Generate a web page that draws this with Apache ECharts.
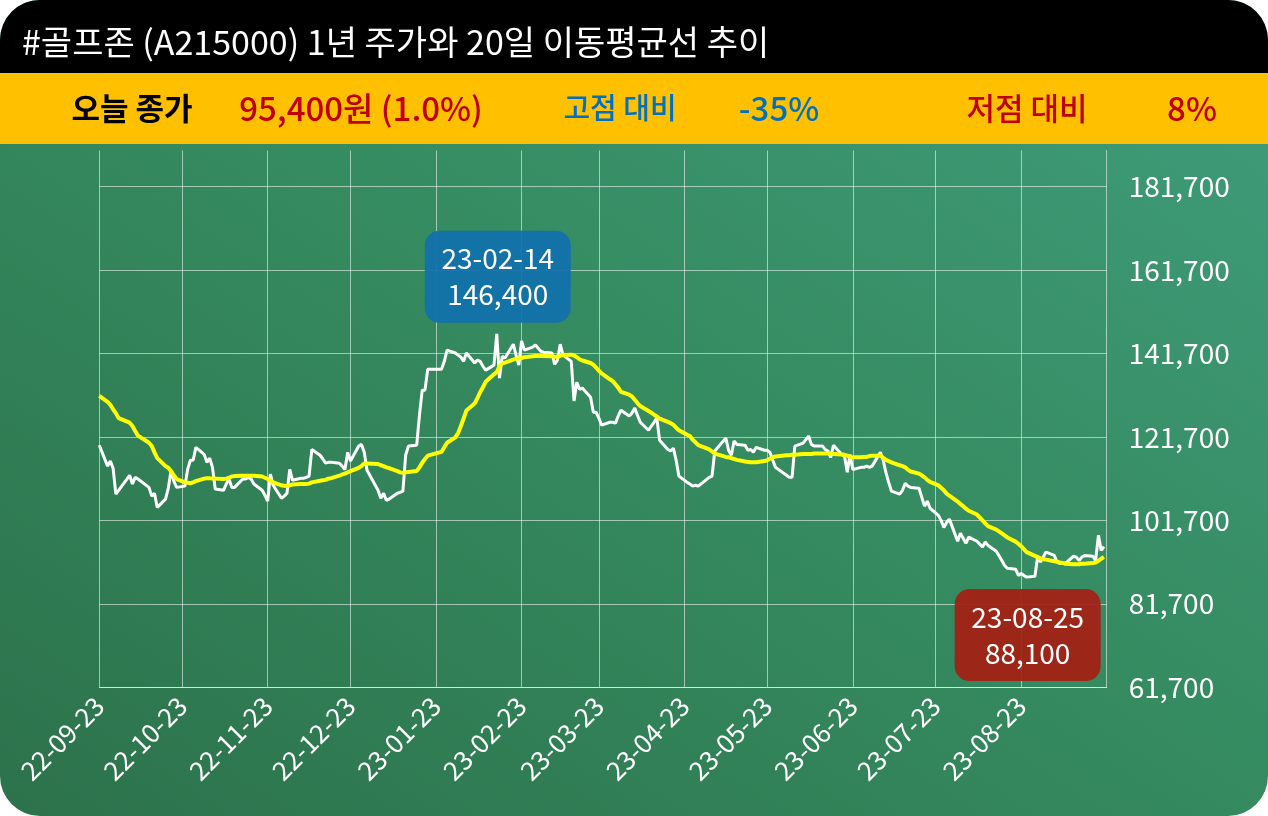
<!DOCTYPE html>
<html>
<head>
<meta charset="utf-8">
<script src="https://cdn.jsdelivr.net/npm/echarts@6/dist/echarts.min.js"></script>
<style>
  html, body { margin: 0; padding: 0; background: #fff; }
  #card {
    width: 1268px; height: 816px; border-radius: 40px; overflow: hidden;
    background: linear-gradient(to top right, #2c724b 0%, #358a5f 50%, #3f9d7c 100%);
  }
  #chart { width: 1268px; height: 816px; }
</style>
</head>
<body>
<div id="card"><div id="chart"></div></div>
<script>
// 거래일: 주말과 휴장일을 뺀 날짜
const startDate = '2022-09-23';
const endDate = '2023-09-22';
const holidays = ['2022-10-03', '2022-10-10', '2022-12-30', '2023-01-23', '2023-01-24',
  '2023-03-01', '2023-05-01', '2023-05-05', '2023-05-29', '2023-06-06', '2023-08-15'];

// 종가 (월별 줄)
const prices = [
  119700, 114700, 115900, 114200, 108000, 108900,
  112500, 110400, 112000, 111600, 109600, 107500, 108200, 104800, 106800, 109400, 113700, 111100, 109600, 109900, 113900, 116100, 116100, 119200, 117500,
  115600, 116600, 114400, 109200, 108900, 110400, 111600, 109600, 109600, 111600, 111600, 112000, 111600, 110400, 108900, 107700, 106300, 112800, 110100, 107000, 107500, 108200,
  113900, 111300, 111800, 111800, 112000, 112300, 118700, 117300, 116400, 115400, 115600, 115600, 115400, 114700, 113900, 118000, 115900, 119500, 119900, 118000, 113700,
  108900, 107000, 108200, 106500, 106800, 108200, 108400, 108700, 117300, 119500, 119700, 126900, 132900, 132900, 137900, 137900, 139800, 142500, 141800, 141300,
  140800, 139800, 141800, 139400, 140100, 139800, 138600, 137700, 138900, 146400, 135800, 141000, 140600, 143900, 141300, 138900, 144700, 142500, 143200, 143700,
  142200, 142000, 141800, 139100, 140100, 143900, 141300, 139800, 130300, 134800, 133100, 133400, 131200, 127600, 127600, 126200, 124500, 125200, 125200, 125000, 126700, 128100,
  126700, 127400, 128600, 126900, 125200, 123300, 124300, 125200, 126200, 120900, 118700, 118300, 119000, 116100, 112300, 110800, 110400, 109900, 110100, 109900,
  112000, 112300, 118300, 121400, 118500, 117300, 120700, 119900, 119700, 118500, 118700, 118000, 119200, 118500, 118500, 118000, 116100, 114400, 112500, 112000,
  112000, 119500, 120200, 121900, 119900, 119500, 119500, 118700, 118300, 116800, 119700, 117500, 117100, 113200, 117500, 113900, 114400, 114400, 114700, 114400, 114700,
  118000, 116100, 113200, 110800, 108700, 108000, 108900, 110600, 109900, 109600, 109400, 107200, 105100, 106300, 104600, 102900, 101700, 100000, 101200, 102000, 96700,
  98600, 97400, 96200, 97700, 96700, 96000, 95300, 96500, 95700, 94300, 92100, 90900, 90200, 90000, 88500, 89000, 88500, 88100, 88300, 93100, 91700, 92900,
  94100, 93300, 91700, 91400, 91400, 91400, 93100, 92900, 92100, 92900, 93300, 93100, 92100, 98100, 94500, 95400
];

// 20일 이동평균
const ma20 = [
  131500, 130100, 129400, 128300, 127400, 126200,
  125100, 124300, 123100, 122000, 120300, 119500, 118000, 116600, 114700, 114300, 113500, 112500, 111600, 110800, 110700, 110600, 110800, 111100, 111700,
  111800, 111800, 111700, 111700, 111600, 111700, 111900, 112200, 112300, 112400, 112400, 112400, 112400, 112400, 112200, 111900, 111600, 111200, 110800, 110100, 110000, 109900,
  110100, 110300, 110400, 110400, 110400, 110500, 110800, 111200, 111300, 111400, 111700, 111800, 112400, 112700, 112900, 113200, 113500, 114300, 114700, 115300, 115300,
  115200, 114900, 114700, 114400, 114200, 113500, 113200, 113100, 113200, 113300, 113500, 114400, 115500, 116400, 117200, 118100, 119200, 120300, 121600, 122600,
  124300, 126100, 128000, 129700, 131000, 132400, 133600, 134900, 136700, 137200, 138700, 139300, 139500, 140200, 140400, 140500, 140600, 140800, 141000, 141100,
  141100, 141100, 141000, 140900, 140900, 141100, 141300, 141400, 141200, 140800, 140300, 140000, 139400, 139000, 138300, 137600, 136900, 135500, 135100, 134300, 133500, 132500,
  131800, 131400, 130600, 129800, 129100, 127900, 127500, 127000, 126600, 126100, 125300, 125000, 124600, 123900, 123300, 122200, 121900, 121000, 120400, 119700,
  118700, 118200, 117700, 116900, 116800, 116600, 116400, 116200, 115800, 115700, 115600, 115600, 115600, 115900, 116100, 116500, 116800, 117000, 117300, 117300,
  117400, 117400, 117600, 117600, 117600, 117700, 117700, 117700, 117700, 117600, 117600, 117500, 117400, 117200, 116900, 116800, 116800, 116900, 116900, 117100, 117200,
  117200, 116700, 116200, 115900, 115600, 114900, 114700, 114400, 113800, 113400, 112900, 112500, 112000, 111400, 110900, 110100, 109500, 108900, 108100, 107600, 106200,
  105600, 105100, 104500, 104000, 103100, 102400, 101700, 101000, 100300, 99500, 98600, 98100, 97600, 96600, 96100, 95500, 94800, 94100, 93200, 92900, 92600, 92400,
  92300, 91900, 91800, 91600, 91500, 91300, 91200, 91200, 91200, 91300, 91300, 91500, 91600, 92000, 92500, 92900
];

const xTicks = ['2022-09-23', '2022-10-23', '2022-11-23', '2022-12-23', '2023-01-23', '2023-02-23',
  '2023-03-23', '2023-04-23', '2023-05-23', '2023-06-23', '2023-07-23', '2023-08-23'];
const xMax = '2023-09-23';
const yTicks = [61700, 81700, 101700, 121700, 141700, 161700, 181700];

const FONT = '"Noto Sans CJK KR", "Noto Sans", sans-serif';
const GRID = 'rgba(255,255,255,0.55)';

function pad(n) { return n < 10 ? '0' + n : '' + n; }
function ymd(d) { return d.getFullYear() + '-' + pad(d.getMonth() + 1) + '-' + pad(d.getDate()); }
function toTime(s) { return echarts.number.parseDate(s).getTime(); }

function tradingDays() {
  const out = [];
  const d = echarts.number.parseDate(startDate);
  const end = echarts.number.parseDate(endDate);
  while (d <= end) {
    const wd = d.getDay();
    const s = ymd(d);
    if (wd !== 0 && wd !== 6 && holidays.indexOf(s) < 0) out.push(s);
    d.setDate(d.getDate() + 1);
  }
  return out;
}

const dates = tradingDays();
const times = dates.map(toTime);
const iMax = prices.indexOf(Math.max(...prices));
const iMin = prices.indexOf(Math.min(...prices));
const tickTimes = xTicks.map(toTime);

const chart = echarts.init(document.getElementById('chart'));

const headText = (text, x, color, weight, size) => ({
  type: 'text', x: x, y: 108, z: 11,
  style: { text: text, fill: color, fontSize: size, fontWeight: weight, fontFamily: FONT, textAlign: 'center', textVerticalAlign: 'middle' }
});

const options = {
  animation: false,
  textStyle: { fontFamily: FONT },
  grid: { left: 99.3, right: 161.3, top: 150.5, bottom: 128.7 },
  xAxis: {
    type: 'value',
    min: toTime(startDate),
    max: toTime(xMax),
    axisLine: { show: true, lineStyle: { color: GRID, width: 1 } },
    axisTick: { show: false, customValues: tickTimes },
    axisLabel: {
      customValues: tickTimes,
      rotate: 45,
      margin: 14,
      color: '#fff',
      fontSize: 26,
      fontFamily: FONT,
      formatter: (v) => ymd(new Date(v)).slice(2)
    },
    splitLine: { show: true, lineStyle: { color: GRID, width: 1 } }
  },
  yAxis: {
    type: 'value',
    position: 'right',
    min: 61700,
    max: 190320,
    axisLine: { show: true, lineStyle: { color: GRID, width: 1 } },
    axisTick: { show: false, customValues: yTicks },
    axisLabel: { customValues: yTicks, color: '#fff', fontSize: 28, margin: 22, fontFamily: FONT },
    splitLine: { show: true, lineStyle: { color: GRID, width: 1 } }
  },
  series: [
    {
      name: '주가',
      type: 'line',
      data: times.map((t, i) => [t, prices[i]]),
      showSymbol: false,
      lineStyle: { color: '#ffffff', width: 3 },
      z: 2
    },
    {
      name: '20일 이동평균',
      type: 'line',
      data: times.map((t, i) => [t, ma20[i]]),
      showSymbol: false,
      lineStyle: { color: '#ffff00', width: 4 },
      z: 3,
      markPoint: {
        symbol: 'circle',
        symbolSize: 1,
        silent: true,
        itemStyle: { color: 'rgba(0,0,0,0)' },
        label: {
          show: true,
          position: 'inside',
          formatter: (p) => p.name.slice(2) + '\n' + p.value.toLocaleString('en-US'),
          color: '#fff',
          fontSize: 28,
          fontFamily: FONT,
          lineHeight: 36,
          width: 146,
          height: 72,
          padding: [10, 0],
          borderRadius: 15,
          align: 'center',
          verticalAlign: 'middle'
        },
        data: [
          {
            name: dates[iMax], value: prices[iMax], coord: [times[iMax], prices[iMax]],
            label: { offset: [1, -57], backgroundColor: 'rgba(16,112,172,0.92)' }
          },
          {
            name: dates[iMin], value: prices[iMin], coord: [times[iMin], prices[iMin]],
            label: { offset: [1, 58], backgroundColor: 'rgba(165,30,20,0.92)' }
          }
        ]
      }
    }
  ],
  graphic: [
    { type: 'rect', shape: { x: 0, y: 0, width: 1268, height: 73 }, style: { fill: '#000' }, z: 10 },
    { type: 'rect', shape: { x: 0, y: 73, width: 1268, height: 71 }, style: { fill: '#ffc000' }, z: 10 },
    {
      type: 'text', x: 22, y: 42, z: 11,
      style: { text: '#골프존 (A215000) 1년 주가와 20일 이동평균선 추이', fill: '#fff', fontSize: 34, fontFamily: FONT,
        textAlign: 'left', textVerticalAlign: 'middle' }
    },
    headText('오늘 종가', 132, '#000', 'bold', 31),
    headText('95,400원 (1.0%)', 361, '#c00000', 500, 33),
    headText('고점 대비', 620, '#0070c0', 500, 29),
    headText('-35%', 779, '#0070c0', 500, 33),
    headText('저점 대비', 1027, '#c00000', 500, 31),
    headText('8%', 1192, '#c00000', 500, 33)
  ]
};

chart.setOption(options);
</script>
</body>
</html>
